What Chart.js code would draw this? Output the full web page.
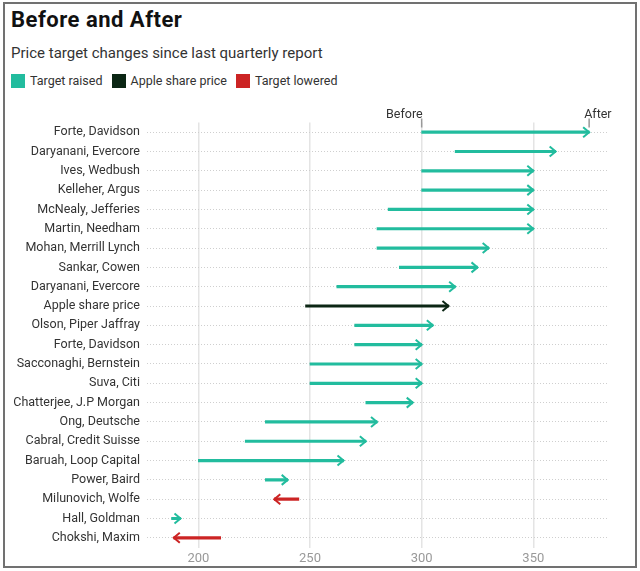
<!DOCTYPE html>
<html>
<head>
<meta charset="utf-8">
<script src="https://cdn.jsdelivr.net/npm/chart.js@4.4.1/dist/chart.umd.min.js"></script>
<style>
    body { margin: 0; background: #fff; font-family: Roboto, "Noto Sans", sans-serif; }
    #page { position: relative; width: 640px; height: 571px; overflow: hidden; }
    #frame { position: absolute; left: 3px; top: 2px; width: 630px; height: 562px; border: 2px solid #717171; }
    #title { position: absolute; left: 11px; top: 7px; font-size: 22px; line-height: 26px; font-weight: 700; letter-spacing: 0.5px; color: #111; }
    #subtitle { position: absolute; left: 11px; top: 44px; font-size: 15px; line-height: 18px; color: #333; }
    #legend { position: absolute; left: 11px; top: 74px; height: 14px; display: flex; align-items: center; font-size: 12.5px; line-height: 14px; color: #333; }
    .item { display: flex; align-items: center; margin-right: 9px; }
    .swatch { width: 14px; height: 14px; margin-right: 5px; }
    #chartBox { position: absolute; left: 0; top: 100px; width: 640px; height: 462px; }
</style>
</head>
<body>
<div id="page">
    <div id="frame"></div>
    <div id="title">Before and After</div>
    <div id="subtitle">Price target changes since last quarterly report</div>
    <div id="legend"></div>
    <div id="chartBox"><canvas id="chart"></canvas></div>
</div>
<script>
// Analysts (top to bottom) and their price targets
const analysts = [
    'Forte, Davidson', 'Daryanani, Evercore', 'Ives, Wedbush', 'Kelleher, Argus',
    'McNealy, Jefferies', 'Martin, Needham', 'Mohan, Merrill Lynch', 'Sankar, Cowen',
    'Daryanani, Evercore', 'Apple share price', 'Olson, Piper Jaffray', 'Forte, Davidson',
    'Sacconaghi, Bernstein', 'Suva, Citi', 'Chatterjee, J.P Morgan', 'Ong, Deutsche',
    'Cabral, Credit Suisse', 'Baruah, Loop Capital', 'Power, Baird', 'Milunovich, Wolfe',
    'Hall, Goldman', 'Chokshi, Maxim'
];
const before = [300, 315, 300, 300, 285, 280, 280, 290, 262, 248, 270, 270, 250, 250, 275, 230, 221, 200, 230, 245, 188, 210];
const after  = [375, 360, 350, 350, 350, 350, 330, 325, 315, 312, 305, 300, 300, 300, 296, 280, 275, 265, 240, 234, 192, 189];
const xTicks = [200, 250, 300, 350];

const legendItems = ['Target raised', 'Apple share price', 'Target lowered'];
const colors = { 'Target raised': '#22bc9e', 'Apple share price': '#0b2614', 'Target lowered': '#cc2424' };

// Legend
const legendEl = document.getElementById('legend');
legendItems.forEach(name => {
    const item = document.createElement('div');
    item.className = 'item';
    item.innerHTML = '<div class="swatch" style="background:' + colors[name] + '"></div>' + name;
    legendEl.appendChild(item);
});

const rowColor = i => {
    if (analysts[i] === 'Apple share price') return colors['Apple share price'];
    return after[i] >= before[i] ? colors['Target raised'] : colors['Target lowered'];
};

// Arrow heads + "Before"/"After" header
const arrowPlugin = {
    id: 'arrows',
    afterDatasetsDraw(chart) {
        const ctx = chart.ctx;
        const x = chart.scales.x;
        const y = chart.scales.y;
        ctx.save();
        before.forEach((b, i) => {
            const py = y.getPixelForValue(i);
            const tip = x.getPixelForValue(after[i]);
            const dir = after[i] >= b ? 1 : -1;
            ctx.strokeStyle = rowColor(i);
            ctx.lineWidth = 2;
            ctx.lineJoin = 'miter';
            ctx.beginPath();
            ctx.moveTo(tip - dir * 6, py - 5);
            ctx.lineTo(tip, py);
            ctx.lineTo(tip - dir * 6, py + 5);
            ctx.stroke();
        });

        // header labels on the first row
        const top = chart.chartArea.top;
        const bx = x.getPixelForValue(before[0]);
        const ax = x.getPixelForValue(after[0]);
        ctx.strokeStyle = '#999';
        ctx.lineWidth = 1.5;
        ctx.beginPath();
        ctx.moveTo(bx, top - 4);
        ctx.lineTo(bx, top + 5);
        ctx.moveTo(ax, top - 4);
        ctx.lineTo(ax, top + 5);
        ctx.stroke();
        ctx.fillStyle = '#333';
        ctx.font = '12.5px Roboto';
        ctx.textBaseline = 'alphabetic';
        ctx.textAlign = 'right';
        ctx.fillText('Before', bx + 1, top - 5);
        ctx.textAlign = 'left';
        ctx.fillText('After', ax - 5, top - 5);
        ctx.restore();
    }
};

const chart = new Chart(document.getElementById('chart'), {
    type: 'bar',
    data: {
        labels: analysts,
        datasets: [{
            data: before.map((b, i) => [b, after[i]]),
            backgroundColor: analysts.map((_, i) => rowColor(i)),
            barThickness: 2.5,
            borderSkipped: false
        }]
    },
    options: {
        indexAxis: 'y',
        responsive: true,
        maintainAspectRatio: false,
        animation: false,
        layout: { padding: { top: 22.5, right: 33, bottom: 0, left: 0 } },
        plugins: {
            legend: { display: false },
            tooltip: { enabled: false }
        },
        scales: {
            x: {
                type: 'linear',
                min: 177,
                max: 383,
                afterBuildTicks: scale => {
                    scale.ticks = xTicks.map(v => ({ value: v }));
                },
                afterFit: scale => { scale.height = 14.5; },
                grid: { color: '#e4e4e4', lineWidth: 1.5, drawTicks: false },
                border: { display: false },
                ticks: {
                    padding: 3,
                    color: '#999',
                    font: { family: 'Roboto', size: 13 }
                }
            },
            y: {
                afterFit: scale => { scale.width = 147; },
                grid: { offset: false, color: '#cfcfcf', lineWidth: 1, drawTicks: false },
                border: { display: false, dash: [1, 2] },
                ticks: {
                    padding: 7,
                    color: '#333',
                    font: { family: 'Roboto', size: 12.5 }
                }
            }
        }
    },
    plugins: [arrowPlugin]
});
</script>
</body>
</html>
